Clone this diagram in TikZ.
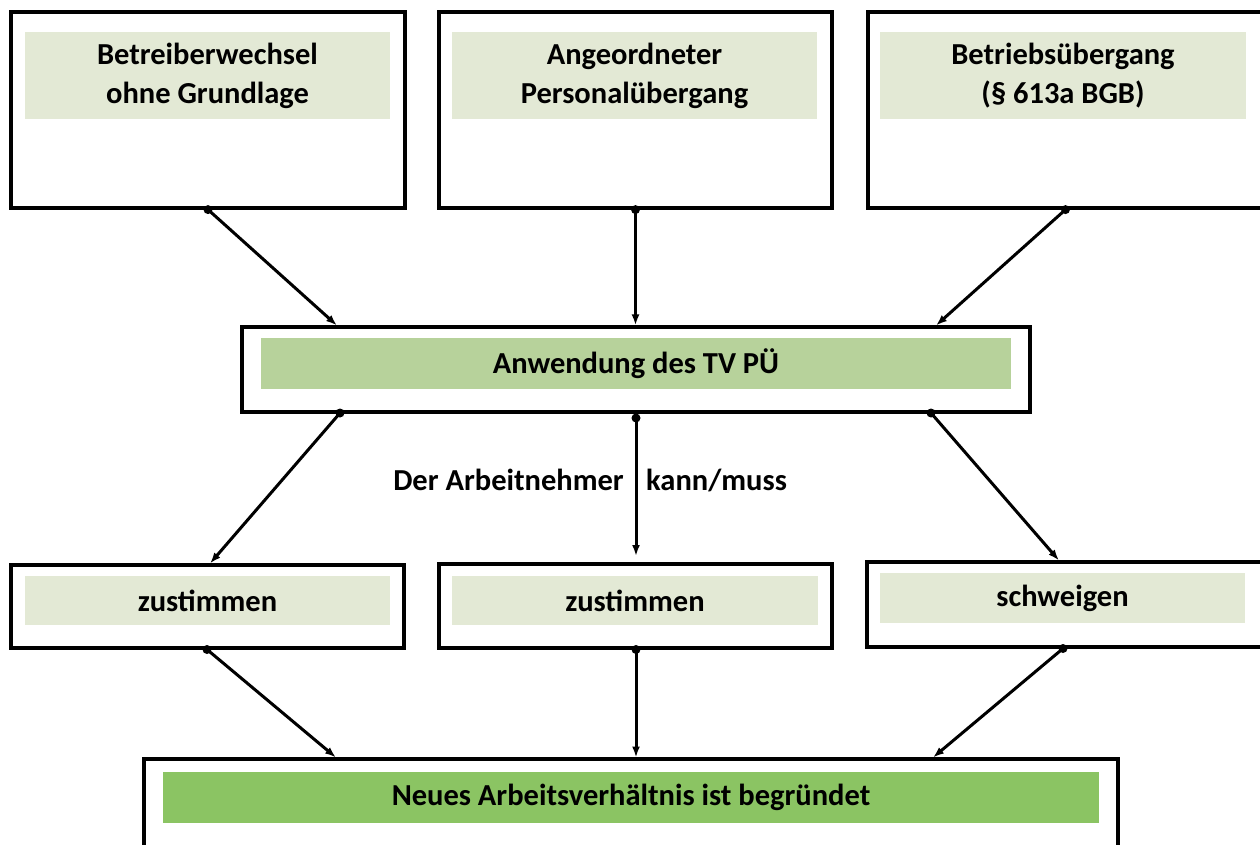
\documentclass[tikz,border=0pt]{standalone}
\usepackage{fontspec}
\setmainfont{Carlito}
\usetikzlibrary{arrows.meta,calc}
\definecolor{lightfill}{HTML}{E3E9D5}
\definecolor{midfill}{HTML}{B7D29B}
\definecolor{darkfill}{HTML}{8BC463}
\begin{document}
\begin{tikzpicture}[x=1pt,y=-1pt,
  outerbox/.style={draw=black,line width=3.2pt,inner sep=0pt,fill=white},
  fillbox/.style={inner sep=0pt,align=center,text=black,font=\bfseries\fontsize{30.5}{39}\selectfont},
  lightbox/.style={fillbox,fill=lightfill},
  midbox/.style={fillbox,fill=midfill},
  darkbox/.style={fillbox,fill=darkfill},
  lbl/.style={inner sep=0pt,text=black,font=\bfseries\fontsize{30.5}{39}\selectfont},
  conn/.style={line width=3pt,-{Latex[length=11pt,width=8pt]}},
  dot/.style={fill=black}
]
\useasboundingbox (0,0) rectangle (1260,845);

% top row
\node[outerbox,minimum width=394pt,minimum height=196pt] (b1) at (208,110) {};
\node[outerbox,minimum width=393pt,minimum height=196pt] (b2) at (635.5,110) {};
\node[outerbox,minimum width=395pt,minimum height=196pt] (b3) at (1065.5,110) {};
\node[lightbox,minimum width=365pt,minimum height=87pt] (t1) at (207.5,75.5) {Betreiberwechsel\\ohne Grundlage};
\node[lightbox,minimum width=365pt,minimum height=87pt] (t2) at (634.5,75.5) {Angeordneter\\Personalübergang};
\node[lightbox,minimum width=366pt,minimum height=87pt] (t3) at (1063,75.5) {Betriebsübergang\\(§ 613a BGB)};

% middle
\node[outerbox,minimum width=788pt,minimum height=85pt] (m) at (636,369.5) {};
\node[midbox,minimum width=750pt,minimum height=51pt] (mi) at (636,363.5) {Anwendung des TV PÜ};

% second row
\node[outerbox,minimum width=393pt,minimum height=83pt] (r1) at (207.5,606.5) {};
\node[outerbox,minimum width=393pt,minimum height=84pt] (r2) at (635.5,606) {};
\node[outerbox,minimum width=395pt,minimum height=85pt] (r3) at (1064.5,604.5) {};
\node[lightbox,minimum width=365pt,minimum height=49pt] (s1) at (207.5,600.5) {zustimmen};
\node[lightbox,minimum width=366pt,minimum height=49pt] (s2) at (635,600.5) {zustimmen};
\node[lightbox,minimum width=365pt,minimum height=50pt] (s3) at (1062.5,598) {schweigen};

% final
\node[outerbox,minimum width=974pt,minimum height=101pt] (f) at (631,809.5) {};
\node[darkbox,minimum width=936pt,minimum height=51pt] (fi) at (631,797.5) {Neues Arbeitsverhältnis ist begründet};

% labels
\node[lbl,anchor=base east] (l1) at (624,490) {Der Arbeitnehmer};
\node[lbl,anchor=base west] (l2) at (646,490) {kann/muss};

% connector points
\coordinate (a1s) at (b1.south);
\coordinate (a1e) at (337,325.5);
\coordinate (a2s) at (b2.south);
\coordinate (a2e) at (b2.south |- m.north);
\coordinate (a3s) at (b3.south);
\coordinate (a3e) at (936,325.5);

\coordinate (c1s) at (340,413);
\coordinate (c1e) at (210,563.5);
\coordinate (c2s) at (636,418);
\coordinate (c2e) at (636,556);
\coordinate (c3s) at (931,413);
\coordinate (c3e) at (1059,560.5);

\coordinate (d1s) at (207,649.5);
\coordinate (d1e) at (336,757.5);
\coordinate (d2s) at (636,649.5);
\coordinate (d2e) at (636,757.5);
\coordinate (d3s) at (1063,648.5);
\coordinate (d3e) at (933,757.5);

\foreach \s/\e in {a1s/a1e,a2s/a2e,a3s/a3e,c1s/c1e,c2s/c2e,c3s/c3e,d1s/d1e,d2s/d2e,d3s/d3e}{
  \draw[conn] (\s) -- (\e);
  \fill[dot] (\s) circle[radius=4.5pt];
}
\end{tikzpicture}
\end{document}
